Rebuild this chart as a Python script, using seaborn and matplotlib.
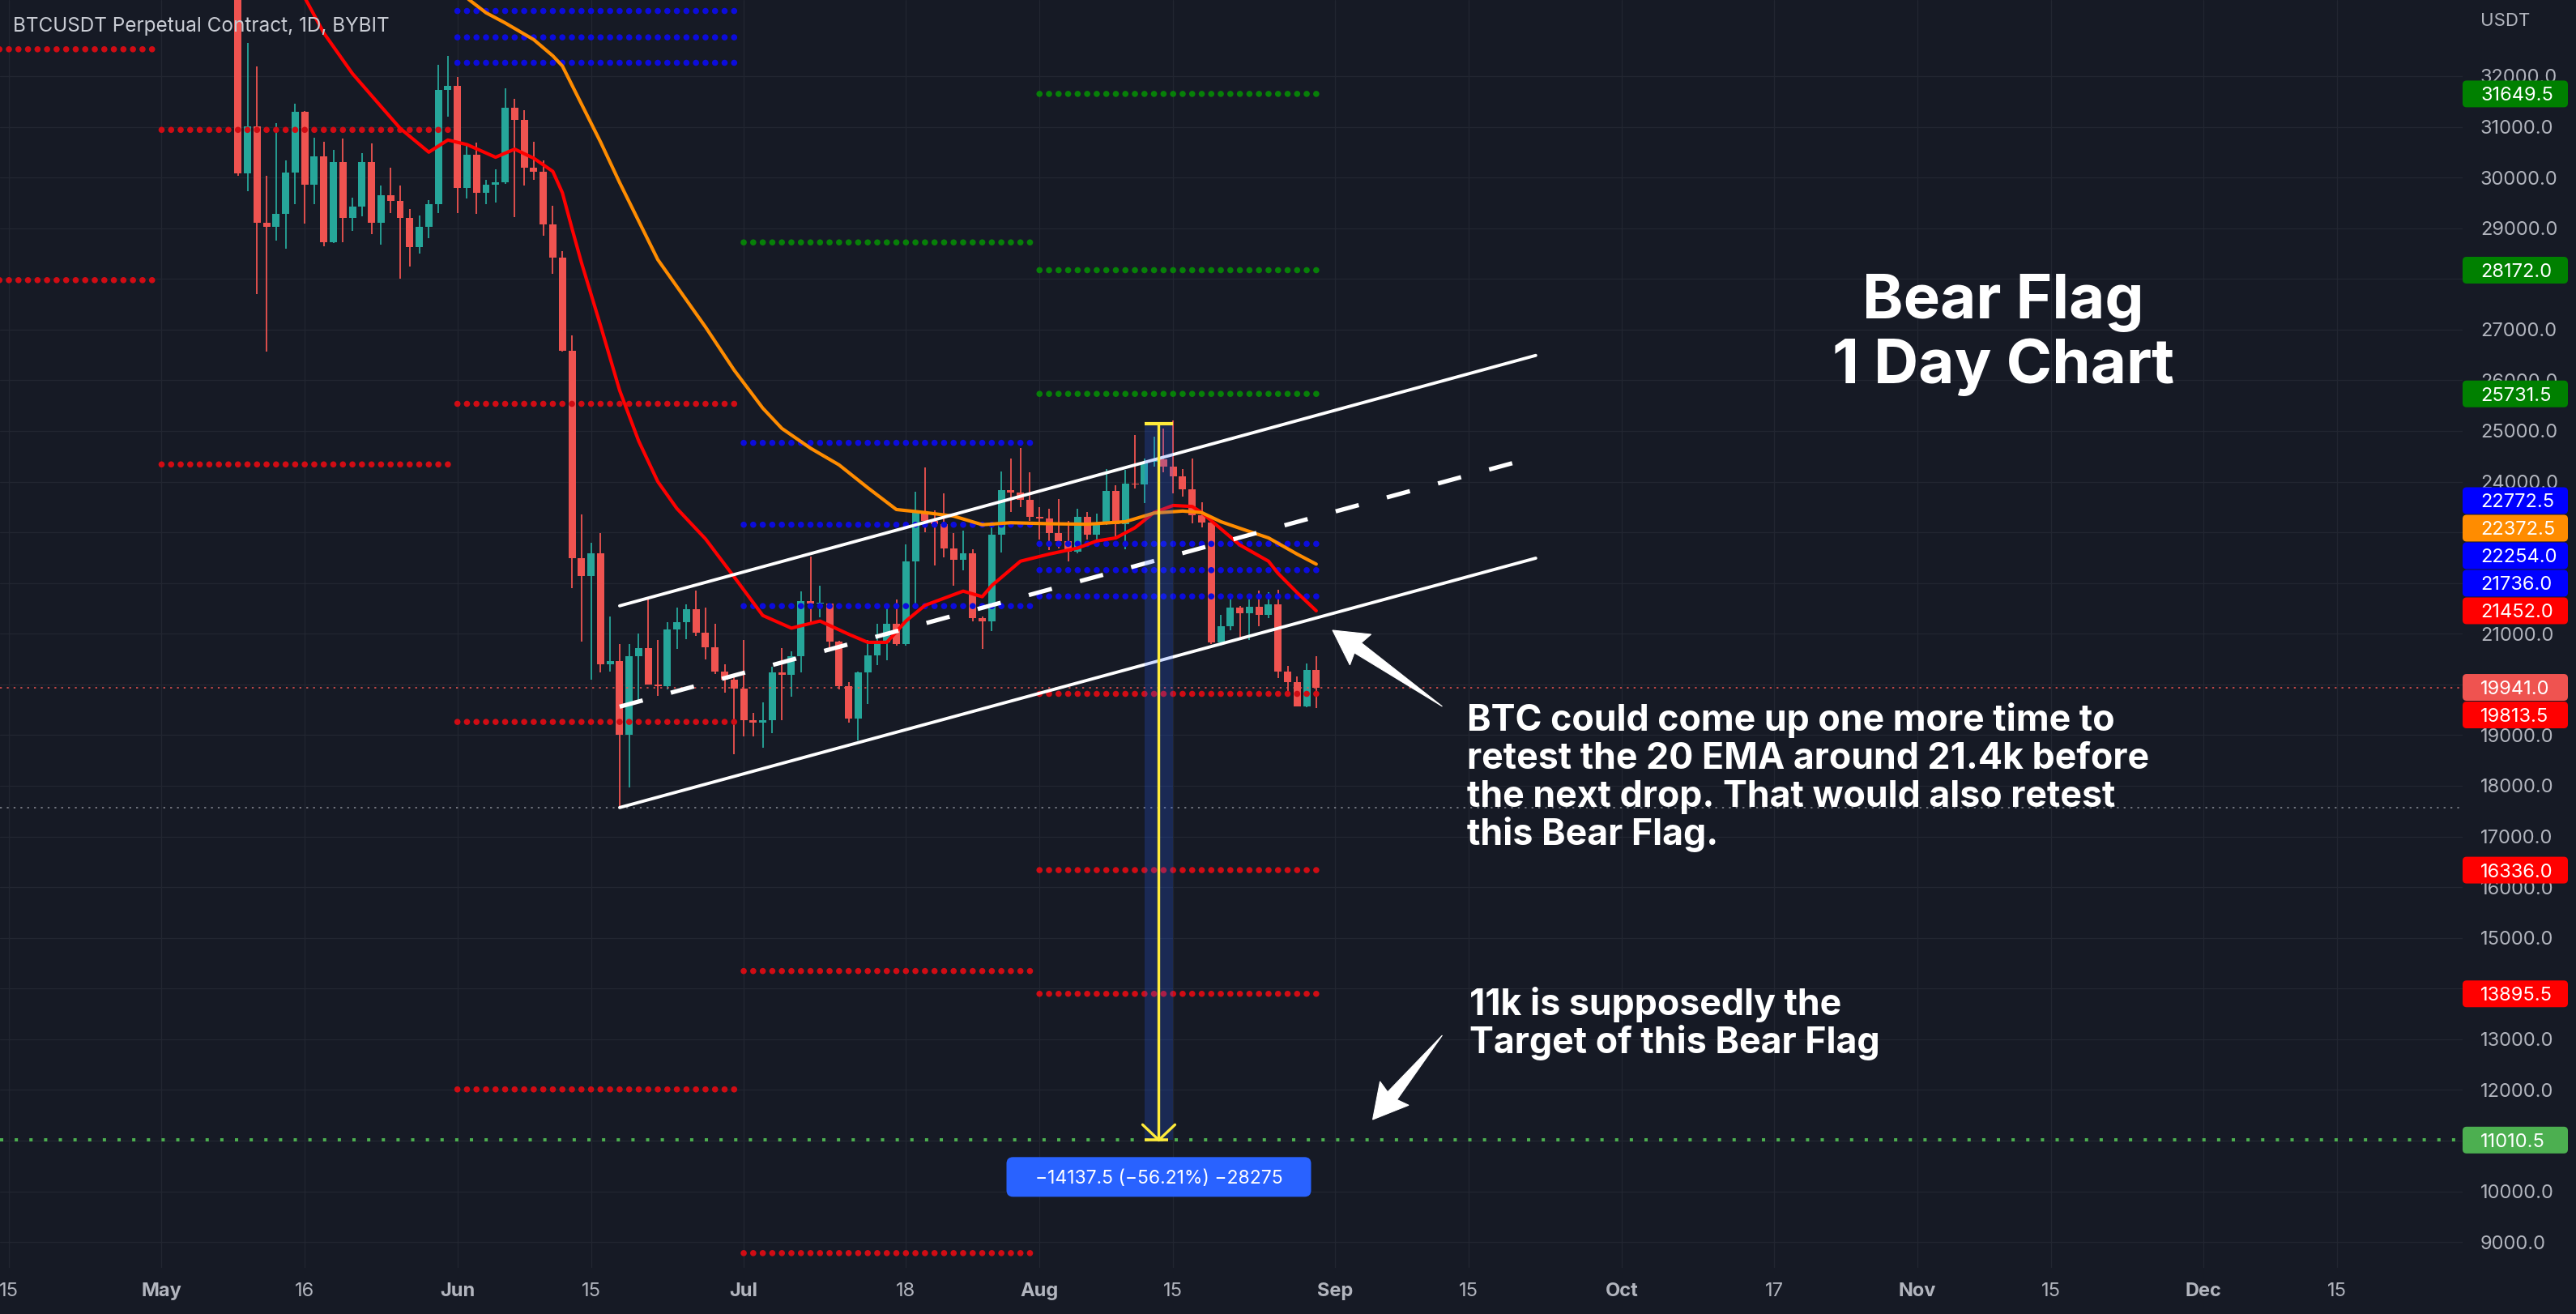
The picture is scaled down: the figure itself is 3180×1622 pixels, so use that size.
import numpy as np
import pandas as pd
import matplotlib
matplotlib.use("Agg")
import matplotlib.pyplot as plt
import matplotlib.dates as mdates
from matplotlib.patches import Polygon, FancyBboxPatch
from matplotlib.transforms import IdentityTransform
import seaborn as sns

# ---------------- data ----------------
# daily candles, BTCUSDT perpetual (BYBIT), 9 May -> 30 Aug 2022
candle_dates = pd.date_range("2022-05-09", "2022-08-30", freq="D")
opens = [
    34060, 30080, 31010, 29100, 29030, 29290, 30100, 31300, 29860, 30420, 28720, 30300, 29200, 29430, 30300, 29100, 29650, 29540, 29200, 28630, 29030, 29470, 31720,
    31800, 29800, 30450, 29700, 29860, 29900, 31370, 31130, 30200, 30110, 29080, 28420, 26580, 22490, 22140, 22590, 20390, 20460, 19000, 20560, 20710, 20000, 19960, 21090, 21220, 21480, 21020, 20730, 20250, 20100,
    19920, 19290, 19240, 19300, 20230, 20190, 20550, 21640, 21590, 21590, 20850, 19960, 19330, 20230, 20580, 20830, 21200, 20790, 22430, 23400, 23230, 23160, 22680, 22460, 22580, 21300, 21250, 22950, 23840, 23780, 23640,
    23300, 23270, 22990, 22820, 22620, 23310, 22960, 23170, 23810, 23160, 23960, 23940, 24400, 24440, 24300, 24100, 23850, 23340, 23190, 20830, 21140, 21520, 21400, 21530, 21370, 21580, 20260, 20040, 19560, 20280,
]
highs = [
    34250, 32660, 32190, 30030, 31080, 30340, 31460, 31320, 30780, 30700, 30540, 30770, 29600, 30480, 30670, 29840, 30200, 29850, 29380, 29250, 29550, 32220, 32400,
    31980, 30650, 30690, 29950, 30160, 31760, 31550, 31330, 30700, 30330, 29450, 28550, 26880, 23360, 22800, 22980, 21340, 20790, 20800, 21000, 21720, 20880, 21230, 21520, 21580, 21850, 21520, 21200, 20400, 20140,
    20870, 19430, 19640, 20350, 20720, 20650, 21840, 22520, 21950, 21600, 20860, 20050, 20250, 20880, 21200, 21580, 21680, 22760, 23800, 24280, 23430, 23770, 22990, 23030, 22660, 21340, 23110, 24200, 24450, 24670, 24180,
    23500, 23460, 23650, 23230, 23460, 23400, 23370, 24250, 23930, 24230, 24920, 24450, 24890, 25050, 25210, 24250, 24450, 23600, 23200, 21370, 21680, 21540, 21680, 21850, 21820, 21860, 20360, 20150, 20420, 20560,
]
lows = [
    30030, 29730, 27700, 26560, 28750, 28600, 29480, 29090, 29470, 28650, 28700, 28730, 28940, 29240, 28880, 28670, 29300, 28000, 28250, 28500, 28810, 29300, 31200,
    29300, 29580, 29280, 29480, 29500, 29880, 29220, 29840, 29950, 28850, 28100, 26560, 21900, 20850, 20100, 20230, 20250, 17570, 17970, 19640, 20350, 19770, 19900, 20700, 20900, 20950, 20500, 20200, 19840, 18620,
    18970, 18970, 18750, 19040, 19300, 19760, 20240, 21200, 21320, 20650, 19900, 19240, 18900, 19620, 20380, 20480, 20760, 20770, 21600, 23000, 22340, 22500, 21950, 22250, 21250, 20700, 21050, 22600, 23400, 23500, 23220,
    22850, 22650, 22680, 22430, 22590, 22850, 22850, 23150, 22870, 22660, 23860, 23580, 24300, 24180, 23770, 23700, 23180, 23100, 20800, 20760, 21070, 20880, 20880, 21150, 21300, 20120, 19820, 19560, 19550, 19540,
]
closes = [
    30080, 31010, 29100, 29030, 29290, 30100, 31300, 29860, 30420, 28720, 30300, 29200, 29430, 30300, 29100, 29650, 29540, 29200, 28630, 29030, 29470, 31720, 31800,
    29800, 30450, 29700, 29860, 29900, 31370, 31130, 30200, 30110, 29080, 28420, 26580, 22490, 22140, 22590, 20390, 20460, 19000, 20560, 20710, 20000, 19960, 21090, 21220, 21480, 21020, 20730, 20250, 20100, 19920,
    19290, 19240, 19300, 20230, 20190, 20550, 21640, 21590, 21590, 20850, 19960, 19330, 20230, 20580, 20830, 21200, 20790, 22430, 23400, 23230, 23160, 22680, 22460, 22580, 21300, 21250, 22950, 23840, 23780, 23640, 23300,
    23270, 22990, 22820, 22620, 23310, 22960, 23170, 23810, 23160, 23960, 23940, 24400, 24440, 24300, 24100, 23850, 23340, 23190, 20830, 21140, 21520, 21400, 21530, 21370, 21580, 20260, 20040, 19560, 20280, 19941,
]

# 20 EMA (red) and 50 EMA (orange)
ema20_dates = ["2022-05-15", "2022-05-16", "2022-05-18", "2022-05-21", "2022-05-24", "2022-05-26", "2022-05-29", "2022-05-30",
               "2022-05-31", "2022-06-02", "2022-06-05", "2022-06-07", "2022-06-09", "2022-06-11", "2022-06-12", "2022-06-13",
               "2022-06-14", "2022-06-16", "2022-06-18", "2022-06-20", "2022-06-22", "2022-06-24", "2022-06-27", "2022-06-30",
               "2022-07-03", "2022-07-06", "2022-07-09", "2022-07-12", "2022-07-14", "2022-07-16", "2022-07-18", "2022-07-20",
               "2022-07-24", "2022-07-26", "2022-07-27", "2022-07-30", "2022-08-02", "2022-08-05", "2022-08-07", "2022-08-09",
               "2022-08-11", "2022-08-13", "2022-08-15", "2022-08-17", "2022-08-18", "2022-08-20", "2022-08-22", "2022-08-25",
               "2022-08-26", "2022-08-28", "2022-08-30"]
ema20 = [33900, 33550, 32850, 32050, 31400, 30970, 30500, 30620,
         30740, 30650, 30400, 30560, 30380, 30120, 29700, 29000,
         28320, 27080, 25800, 24800, 24000, 23470, 22870, 22120,
         21360, 21110, 21250, 20990, 20830, 20830, 21250, 21560,
         21840, 21730, 21950, 22430, 22570, 22690, 22830, 22890,
         23090, 23390, 23530, 23510, 23390, 23070, 22750, 22430,
         22190, 21810, 21452]
ema50_dates = ["2022-06-01", "2022-06-02", "2022-06-04", "2022-06-06", "2022-06-09", "2022-06-11", "2022-06-12", "2022-06-14",
               "2022-06-16", "2022-06-18", "2022-06-22", "2022-06-27", "2022-06-30", "2022-07-03", "2022-07-05", "2022-07-08",
               "2022-07-11", "2022-07-14", "2022-07-17", "2022-07-20", "2022-07-23", "2022-07-26", "2022-07-29", "2022-08-02",
               "2022-08-06", "2022-08-10", "2022-08-13", "2022-08-16", "2022-08-18", "2022-08-20", "2022-08-22", "2022-08-25",
               "2022-08-28", "2022-08-30"]
ema50 = [33680, 33540, 33250, 33050, 32720, 32400, 32200, 31450,
         30700, 29900, 28380, 27050, 26200, 25450, 25050, 24660,
         24330, 23880, 23450, 23390, 23320, 23150, 23190, 23170,
         23160, 23210, 23380, 23420, 23390, 23210, 23080, 22890,
         22570, 22372.5]

# monthly pivot levels (dotted), one dot per day of the month
level_months = ["2022-04", "2022-04", "2022-05", "2022-05",
                "2022-06", "2022-06", "2022-06", "2022-06", "2022-06", "2022-06",
                "2022-07", "2022-07", "2022-07", "2022-07", "2022-07", "2022-07",
                "2022-08", "2022-08", "2022-08", "2022-08", "2022-08", "2022-08", "2022-08", "2022-08", "2022-08"]
level_prices = [32530, 27975, 30940, 24340,
                33285, 32765, 32263, 25535, 19260, 12010,
                28720, 24765, 23150, 21545, 14345, 8780,
                31649.5, 28172.0, 25731.5, 22772.5, 22254.0, 21736.0, 19813.5, 16336.0, 13895.5]
level_kinds = ["red", "red", "red", "red",
               "blue", "blue", "blue", "red", "red", "red",
               "green", "blue", "blue", "blue", "red", "red",
               "green", "green", "green", "blue", "blue", "blue", "red", "red", "red"]

# tags on the price scale
tag_prices = [31649.5, 28172.0, 25731.5, 22772.5, 22372.5, 22254.0, 21736.0, 21452.0,
              19941.0, 19813.5, 16336.0, 13895.5, 11010.5]
tag_colors = ["#008000", "#008000", "#008000", "#0000ff", "#ff8c00", "#0000ff", "#0000ff", "#ff0000",
              "#ef5350", "#ff0000", "#ff0000", "#ff0000", "#4caf50"]
last_price = 19941.0
target_price = 11010.5
swing_low = 17570

# bear flag channel
channel_dates = ["2022-06-18", "2022-09-22"]
channel_upper = [21550, 26490]
channel_mid = [19560, 24490]
channel_lower = [17570, 22490]

# price range measurement
range_dates = ["2022-08-12", "2022-08-15"]
range_top, range_bottom = 25147.5, 11010.5
range_label = "\u221214137.5 (\u221256.21%) \u221228275"

# annotation arrows (tail -> head)
note_arrows = [(("2022-09-12 05:00", 19566), ("2022-08-31 17:00", 21068)),
               (("2022-09-12 05:00", 13077), ("2022-09-04 22:00", 11415))]

# time axis
tick_dates = ["2022-04-15", "2022-05-01", "2022-05-16", "2022-06-01", "2022-06-15", "2022-07-01",
              "2022-07-18", "2022-08-01", "2022-08-15", "2022-09-01", "2022-09-15", "2022-10-01",
              "2022-10-17", "2022-11-01", "2022-11-15", "2022-12-01", "2022-12-15"]
tick_labels = ["15", "May", "16", "Jun", "15", "Jul", "18", "Aug", "15", "Sep", "15", "Oct",
               "17", "Nov", "15", "Dec", "15"]
month_names = {"May", "Jun", "Jul", "Aug", "Sep", "Oct", "Nov", "Dec"}

# ---------------- style ----------------
W, H = 3180, 1622
BG = "#161a25"
GRID = "#222631"
AXTXT = "#b2b5be"
UP, DOWN = "#26a69a", "#ef5350"
DOT_COLORS = {"red": "#d00c14", "blue": "#0c0cdc", "green": "#078008"}

sns.set_theme(style="dark", rc={"axes.facecolor": BG, "figure.facecolor": BG,
                                "axes.edgecolor": BG, "grid.color": GRID})
plt.rcParams["font.family"] = ["Inter", "DejaVu Sans"]

fig = plt.figure(figsize=(W / 100, H / 100), dpi=100)
ax = fig.add_axes([0, 57 / H, 3040 / W, 1565 / H])
ax.set_facecolor(BG)

d2n = lambda d: mdates.date2num(pd.to_datetime(d))
x_origin = d2n("2022-04-15")
x0, x1 = x_origin - 0.934, x_origin + 257.13
y0, y1 = 8490, 33502
sx = 3040 / (x1 - x0)     # px per day
sy = 1565 / (y1 - y0)     # px per USDT

# ---------------- candles ----------------
xc = d2n(candle_dates)
o, hi, lo, c = map(np.asarray, (opens, highs, lows, closes))
col = np.where(c >= o, UP, DOWN)
ax.vlines(xc, lo, hi, colors=col, lw=1.3, zorder=2)
ax.bar(xc, np.maximum(np.abs(c - o), 25), bottom=np.minimum(o, c), width=0.76,
       color=col, linewidth=0, zorder=2.1)

# ---------------- pivot dots ----------------
rows = []
for m, p, k in zip(level_months, level_prices, level_kinds):
    start = pd.Timestamp(m + "-01")
    end = min(start + pd.offsets.MonthEnd(0), candle_dates[-1])
    for d in pd.date_range(start, end, freq="D"):
        rows.append({"x": d2n(d), "price": p, "kind": k})
levels = pd.DataFrame(rows)
sns.scatterplot(data=levels, x="x", y="price", hue="kind", palette=DOT_COLORS,
                s=30, linewidth=0, legend=False, ax=ax, zorder=3)

# ---------------- horizontal lines ----------------
ax.axhline(last_price, color=DOWN, lw=1.1, ls=(0, (1.5, 4)), zorder=3)
ax.axhline(swing_low, color="#8a8d96", lw=1.1, ls=(0, (1.5, 4)), zorder=3)
ax.axhline(target_price, color="#4caf50", lw=2.9, ls=(0, (1, 3.5)), zorder=3)

# ---------------- EMAs ----------------
sns.lineplot(x=d2n(ema20_dates), y=ema20, color="#ff0000", lw=3.0, ax=ax, zorder=4)
sns.lineplot(x=d2n(ema50_dates), y=ema50, color="#ff8c00", lw=3.0, ax=ax, zorder=4)

# ---------------- channel ----------------
xch = d2n(channel_dates)
ax.plot(xch, channel_upper, color="white", lw=2.8, zorder=5)
ax.plot(xch, channel_lower, color="white", lw=2.8, zorder=5)
ax.plot(xch, channel_mid, color="white", lw=3.8, ls=(0, (5.6, 6.8)), zorder=5)

# ---------------- price range tool ----------------
xr = d2n(range_dates)
xm = xr.mean()
ax.fill_between(xr, range_bottom, range_top, color="#2962ff", alpha=0.22, lw=0, zorder=6)
yel = "#ffeb3b"
ax.plot([xm, xm], [range_bottom, range_top], color=yel, lw=2.4, zorder=7)
ax.plot(xr, [range_top, range_top], color=yel, lw=3.0, zorder=7, solid_capstyle="butt")
ax.plot([xr[0], xm + 1.0], [range_bottom, range_bottom], color=yel, lw=2.6, zorder=7, solid_capstyle="butt")
ax.plot([xm - 20 / sx, xm, xm + 20 / sx],
        [range_bottom + 19 / sy, range_bottom, range_bottom + 19 / sy], color=yel, lw=2.4, zorder=7)


def wedge_arrow(tail, head, shaft_w=15, head_w=46, head_len=38):
    t = np.array([d2n(tail[0]) * sx, tail[1] * sy])
    h = np.array([d2n(head[0]) * sx, head[1] * sy])
    u = (h - t) / np.hypot(*(h - t))
    n = np.array([-u[1], u[0]])
    base = h - u * head_len
    pts = [t, base + n * shaft_w / 2, base + n * head_w / 2 - u * 4, h,
           base - n * head_w / 2 - u * 4, base - n * shaft_w / 2]
    pts = np.array([(px / sx, py / sy) for px, py in pts])
    ax.add_patch(Polygon(pts, closed=True, fc="white", ec="white", lw=0.8, zorder=8))


for tail, head in note_arrows:
    wedge_arrow(tail, head)

# ---------------- axes ----------------
ax.set_xlim(x0, x1)
ax.set_ylim(y0, y1)
for s in ax.spines.values():
    s.set_visible(False)
ax.grid(True, color=GRID, lw=0.9)
ax.set_axisbelow(True)
ax.set_xlabel("")
ax.set_ylabel("")

ax.set_xticks(d2n(tick_dates))
ax.set_xticklabels(tick_labels)
for lab in ax.get_xticklabels():
    if lab.get_text() in month_names:
        lab.set_fontweight("bold")
ax.tick_params(axis="x", length=0, pad=13, labelsize=17, labelcolor=AXTXT)


def img_y(price):
    return H - ax.transData.transform((x0, price))[1]


# tags on the price scale: stack them away from the last price so they don't collide
ideal = np.array([img_y(p) for p in tag_prices])
placed = ideal.copy()
cur = tag_prices.index(last_price)
step = 34
above = sorted([i for i in range(len(tag_prices)) if ideal[i] < ideal[cur]], key=lambda i: -ideal[i])
below = sorted([i for i in range(len(tag_prices)) if ideal[i] > ideal[cur]], key=lambda i: ideal[i])
prev = ideal[cur]
for i in above:
    placed[i] = min(ideal[i], prev - step)
    prev = placed[i]
prev = ideal[cur]
for i in below:
    placed[i] = max(ideal[i], prev + step)
    prev = placed[i]

# tick labels that sit under a tag are hidden, as on the scale itself
ax.yaxis.tick_right()
yt = np.arange(9000, 33000, 1000)
ax.set_yticks(yt)
ax.set_yticklabels(["" if np.min(np.abs(placed - img_y(v))) < 15 else f"{v:.1f}" for v in yt])
ax.tick_params(axis="y", length=0, pad=15.8, labelsize=17, labelcolor=AXTXT)


def ftext(x, y, s, **kw):
    fig.text(x / W, 1 - y / H, s, **kw)


for p, colr, yy in zip(tag_prices, tag_colors, placed):
    fig.add_artist(FancyBboxPatch((3040, H - yy - 16.5), 130, 33,
                                  boxstyle="round,pad=0,rounding_size=5",
                                  fc=colr, ec="none", transform=IdentityTransform(), zorder=5))
    ftext(3062, yy, f"{p:.1f}", color="white", fontsize=17, va="center_baseline", zorder=6)

ftext(3062, 26, "USDT", color=AXTXT, fontsize=16, va="center")
ftext(16, 33, "BTCUSDT Perpetual Contract, 1D, BYBIT", color="#c9ccd4", fontsize=17.5, va="center")

# ---------------- range label ----------------
bx, by = ax.transData.transform((xm, range_bottom))
fig.add_artist(FancyBboxPatch((bx - 188, by - 70), 376, 49,
                              boxstyle="round,pad=0,rounding_size=8",
                              fc="#2962ff", ec="none", transform=IdentityTransform(), zorder=5))
fig.text(bx, by - 45.5, range_label, color="white", fontsize=16.5, ha="center", va="center_baseline",
         transform=IdentityTransform(), zorder=6)

# ---------------- text notes ----------------
for i, line in enumerate(["Bear Flag", "1 Day Chart"]):
    ftext(2473, 393 + 80 * i, line, color="white", fontsize=55, fontweight="bold",
          ha="center", va="baseline")
note1 = ["BTC could come up one more time to", "retest the 20 EMA around 21.4k before",
         "the next drop. That would also retest", "this Bear Flag."]
for i, line in enumerate(note1):
    ftext(1811, 902 + 47 * i, line, color="white", fontsize=32.2, fontweight="bold", va="baseline")
note2 = ["11k is supposedly the", "Target of this Bear Flag"]
for i, line in enumerate(note2):
    ftext(1814, 1253 + 47 * i, line, color="white", fontsize=32.2, fontweight="bold", va="baseline")

fig.savefig("out.png", dpi=100, facecolor=BG)
